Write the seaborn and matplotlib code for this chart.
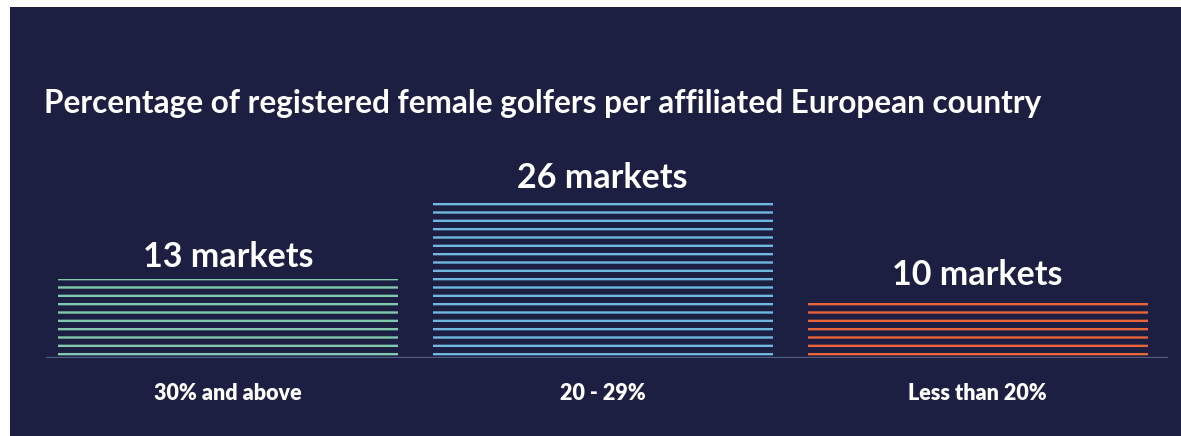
import matplotlib
matplotlib.use("Agg")
import matplotlib.pyplot as plt
import matplotlib.patches as mpatches
import seaborn as sns

# Share of registered female golfers, grouped into three bands
categories = ["30% and above", "20 - 29%", "Less than 20%"]
markets = [13, 26, 10]
bar_colors = ["#82c8ad", "#6fb8df", "#e8643a"]

title = "Percentage of registered female golfers per affiliated European country"

NAVY = "#1c1f42"
BASELINE = "#4f5e85"

sns.set_theme(style="white")
plt.rcParams["font.family"] = ["Lato", "DejaVu Sans"]
plt.rcParams["hatch.linewidth"] = 1.7

W, H = 1181, 436
fig = plt.figure(figsize=(W / 100, H / 100), dpi=100, facecolor="white")

# Dark panel behind the chart
fig.patches.append(mpatches.Rectangle((10 / W, 0), 1 - 10 / W, 1 - 7 / H,
                                      transform=fig.transFigure,
                                      facecolor=NAVY, edgecolor="none", zorder=-5))

px_per_unit = 6.1
ymax = 36
ax_left, ax_right = 46, 1168
ax_bottom = H - 358
ax = fig.add_axes([ax_left / W, ax_bottom / H, (ax_right - ax_left) / W,
                   ymax * px_per_unit / H])
ax.set_facecolor("none")

sns.barplot(x=categories, y=markets, hue=categories, palette=bar_colors,
            legend=False, width=0.907, ax=ax)

# Turn each bar into a stack of horizontal stripes
for patch, color in zip(ax.patches, bar_colors):
    patch.set_facecolor("none")
    patch.set_edgecolor(color)
    patch.set_hatch("--")
    patch.set_linewidth(0)

ax.set_xlim(-0.485, 2.508)
ax.set_ylim(0, ymax)
ax.axhline(0, color=BASELINE, lw=1.6, zorder=5)

for i, v in enumerate(markets):
    ax.annotate(f"{v} markets", xy=(i, v), xytext=(0, 4),
                textcoords="offset points", ha="center", va="bottom",
                color="white", fontsize=24.5, fontweight="bold")

ax.set_xlabel("")
ax.set_ylabel("")
ax.set_yticks([])
ax.tick_params(axis="x", length=0, pad=18, colors="white")
for lbl in ax.get_xticklabels():
    lbl.set_fontsize(15.5)
    lbl.set_fontweight("heavy")
    lbl.set_color("white")
for s in ax.spines.values():
    s.set_visible(False)

fig.text(44 / W, 1 - 113 / H, title, color="white", fontsize=22.7,
         fontweight="bold", ha="left", va="baseline")

fig.savefig("out.png", dpi=100, facecolor=fig.get_facecolor())
